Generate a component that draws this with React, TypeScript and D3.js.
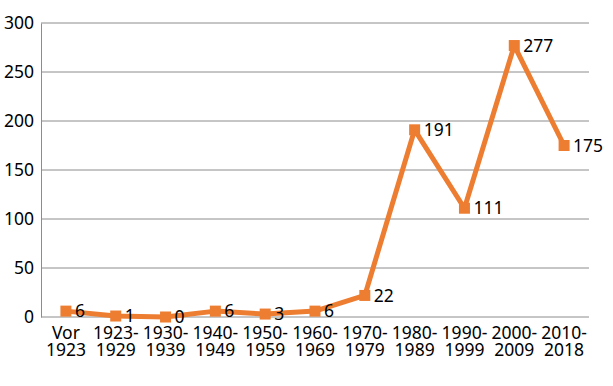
import React, { useEffect, useRef } from 'react';
import { select, scaleLinear, scaleBand, axisLeft, line } from 'd3';

const categories = [
  'Vor 1923', '1923- 1929', '1930- 1939', '1940- 1949', '1950- 1959', '1960- 1969',
  '1970- 1979', '1980- 1989', '1990- 1999', '2000- 2009', '2010- 2018',
];
const values = [6, 1, 0, 6, 3, 6, 22, 191, 111, 277, 175];
const yTicks = [0, 50, 100, 150, 200, 250, 300];

const dims = { width: 613, height: 386, left: 41, right: 589, top: 23, bottom: 317 };
const font = '"Noto Sans", sans-serif';
const orange = '#ED7D31';

const App: React.FC = () => {
  const svgRef = useRef<SVGSVGElement | null>(null);

  useEffect(() => {
    const svg = select(svgRef.current);
    svg.selectAll('*').remove();

    const x = scaleBand().domain(categories).range([dims.left, dims.right]);
    const y = scaleLinear().domain([0, 300]).range([dims.bottom, dims.top]);

    // gridlines
    svg.append('g')
      .selectAll('line')
      .data(yTicks.filter(t => t > 0))
      .enter()
      .append('line')
      .attr('x1', dims.left)
      .attr('x2', dims.right)
      .attr('y1', d => y(d))
      .attr('y2', d => y(d))
      .attr('stroke', '#8c8c8c')
      .attr('stroke-width', 1);

    // y axis
    const yAxis = axisLeft(y).tickValues(yTicks).tickSize(0).tickPadding(7);
    const yg = svg.append('g').attr('transform', `translate(${dims.left},0)`).call(yAxis);
    yg.select('.domain').attr('stroke', '#8c8c8c');
    yg.selectAll('text').attr('font-family', font).attr('font-size', 17.5).attr('fill', '#000');

    // x axis line
    svg.append('line')
      .attr('x1', dims.left)
      .attr('x2', dims.right)
      .attr('y1', dims.bottom)
      .attr('y2', dims.bottom)
      .attr('stroke', '#8c8c8c');

    // x labels
    const xl = svg.append('g')
      .selectAll('text')
      .data(categories)
      .enter()
      .append('text')
      .attr('text-anchor', 'middle')
      .attr('font-family', font)
      .attr('font-size', 17.5)
      .attr('fill', '#000');
    xl.each(function (d) {
      const parts = d.split(' ');
      const cx = x(d)! + x.bandwidth() / 2;
      parts.forEach((p, i) => {
        select(this).append('tspan')
          .attr('x', cx)
          .attr('y', 339 + i * 17)
          .text(p);
      });
    });

    const pts = categories.map((c, i) => ({ c, v: values[i] }));
    const ln = line<{ c: string; v: number }>()
      .x(d => x(d.c)! + x.bandwidth() / 2)
      .y(d => y(d.v));

    svg.append('path')
      .datum(pts)
      .attr('d', ln)
      .attr('fill', 'none')
      .attr('stroke', orange)
      .attr('stroke-width', 5)
      .attr('stroke-linejoin', 'round');

    svg.append('g')
      .selectAll('rect')
      .data(pts)
      .enter()
      .append('rect')
      .attr('x', d => x(d.c)! + x.bandwidth() / 2 - 5.5)
      .attr('y', d => y(d.v) - 5.5)
      .attr('width', 11)
      .attr('height', 11)
      .attr('fill', orange);

    svg.append('g')
      .selectAll('text')
      .data(pts)
      .enter()
      .append('text')
      .attr('x', d => x(d.c)! + x.bandwidth() / 2 + 9)
      .attr('y', d => y(d.v))
      .attr('dy', '0.35em')
      .attr('font-family', font)
      .attr('font-size', 17.5)
      .attr('fill', '#000')
      .text(d => d.v);
  }, []);

  return <svg ref={svgRef} width={dims.width} height={dims.height} style={{ position: 'absolute', left: 0, top: 0 }} />;
};

export default App;
